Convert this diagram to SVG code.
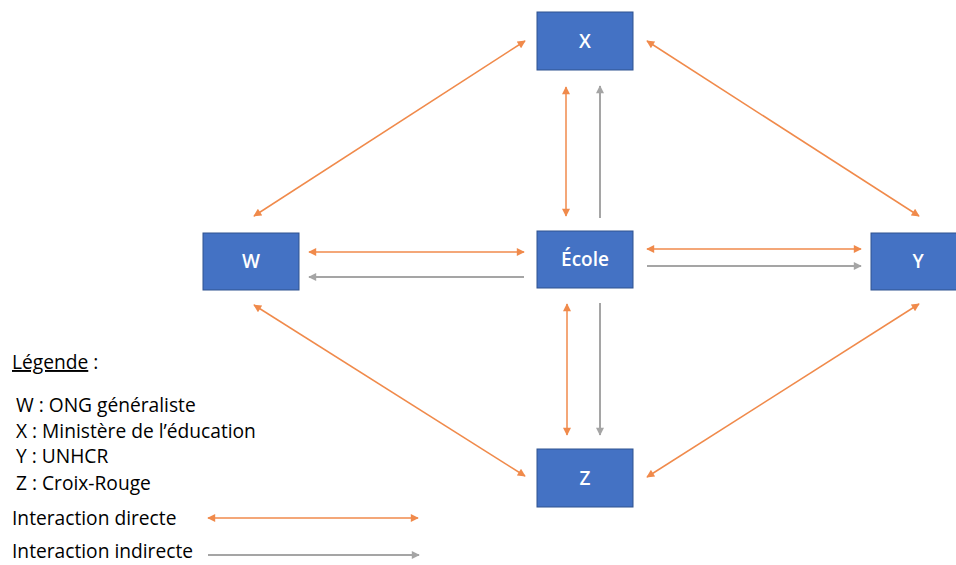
<svg xmlns="http://www.w3.org/2000/svg" width="956" height="565" viewBox="0 0 956 565">
<style>
.node{fill:#4472C4;stroke:#2F528F;stroke-width:1}
.nl{fill:#fff;font-family:"Open Sans","Liberation Sans",sans-serif;font-weight:600;font-size:19px;text-anchor:middle}
.dir{stroke:#F08A4B;stroke-width:1.5;fill:none;marker-start:url(#ao);marker-end:url(#ao)}
.ind{stroke:#A5A5A5;stroke-width:2;fill:none;marker-end:url(#ag)}
.lg{font-family:"Open Sans","Liberation Sans",sans-serif;font-size:19.2px;fill:#000}
</style>
<defs>
<marker id="ao" viewBox="0 0 10 10" refX="9" refY="5" markerWidth="9" markerHeight="8" markerUnits="userSpaceOnUse" orient="auto-start-reverse"><path d="M0,0L10,5L0,10z" fill="#F08A4B"/></marker>
<marker id="ag" viewBox="0 0 10 10" refX="9" refY="5" markerWidth="9" markerHeight="8" markerUnits="userSpaceOnUse" orient="auto-start-reverse"><path d="M0,0L10,5L0,10z" fill="#A5A5A5"/></marker>
</defs>
<g id="connectors">
<line class="dir" x1="254" y1="216" x2="525" y2="41"/>
<line class="dir" x1="647" y1="41" x2="919" y2="216"/>
<line class="dir" x1="254" y1="305" x2="525" y2="476"/>
<line class="dir" x1="647" y1="477" x2="919" y2="304"/>
<line class="dir" x1="309" y1="252" x2="524" y2="252"/>
<line class="ind" x1="524" y1="277" x2="309" y2="277"/>
<line class="dir" x1="647" y1="249" x2="861" y2="249"/>
<line class="ind" x1="647" y1="266" x2="861" y2="266"/>
<line class="dir" x1="566" y1="87" x2="566" y2="216"/>
<line class="ind" x1="600" y1="218" x2="600" y2="86"/>
<line class="dir" x1="567" y1="304" x2="567" y2="435"/>
<line class="ind" x1="600" y1="303" x2="600" y2="435"/>
</g>
<g id="node-X"><rect class="node" x="537" y="12" width="96" height="58"/><text class="nl" x="585" y="48">X</text></g>
<g id="node-W"><rect class="node" x="203" y="233" width="96" height="57"/><text class="nl" x="251" y="268">W</text></g>
<g id="node-Ecole"><rect class="node" x="537" y="231" width="96" height="57"/><text class="nl" x="585" y="266">École</text></g>
<g id="node-Y"><rect class="node" x="871" y="233" width="96" height="57"/><text class="nl" x="918" y="268">Y</text></g>
<g id="node-Z"><rect class="node" x="537" y="449" width="96" height="58"/><text class="nl" x="585" y="485">Z</text></g>
<g id="legend">
<text class="lg" x="12" y="369"><tspan text-decoration="underline">Légende</tspan> :</text>
<text class="lg" x="16" y="412">W : ONG généraliste</text>
<text class="lg" x="16" y="438">X : Ministère de l’éducation</text>
<text class="lg" x="16" y="463">Y : UNHCR</text>
<text class="lg" x="16" y="490">Z : Croix-Rouge</text>
<text class="lg" x="12" y="525">Interaction directe</text>
<text class="lg" x="12" y="558">Interaction indirecte</text>
<line class="dir" x1="208" y1="518" x2="418" y2="518"/>
<line class="ind" x1="208" y1="555" x2="419" y2="555"/>
</g>
</svg>
